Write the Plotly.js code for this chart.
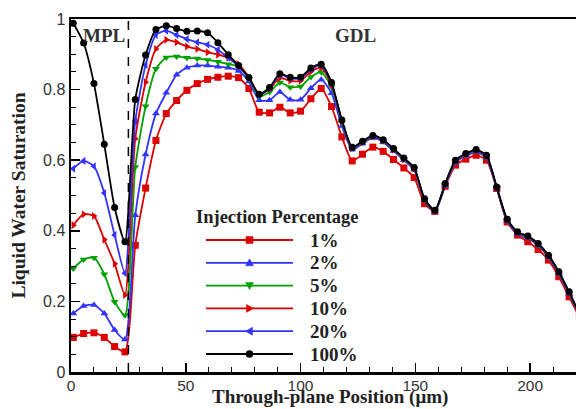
<!DOCTYPE html>
<html>
<head>
<meta charset="utf-8">
<script src="https://cdn.plot.ly/plotly-3.0.1.min.js"></script>
<style>html,body{margin:0;padding:0;background:#fff;}#chart{width:576px;height:409px;}</style>
</head>
<body>
<div id="chart"></div>
<script>
// Through-plane position (µm)
const position = [1, 5.5, 10, 14.5, 19, 23.5, 28, 32.5, 37, 41.5, 46, 50.5, 55, 59.5, 64, 68.5, 73, 77.5, 82, 86.5,
  91, 95.5, 100, 104.5, 109, 113.5, 118, 122.5, 127, 131.5, 136, 140.5, 145, 149.5, 154, 158.5, 163, 167.5, 172, 176.5,
  181, 185.5, 190, 194.5, 199, 203.5, 208, 212.5, 217, 221.5];

const sat1 = [0.098, 0.109, 0.111, 0.098, 0.072, 0.057, 0.359, 0.521, 0.656, 0.732, 0.769, 0.798, 0.817, 0.829, 0.835, 0.838, 0.834, 0.803, 0.736, 0.734,
  0.750, 0.734, 0.739, 0.774, 0.803, 0.752, 0.666, 0.598, 0.617, 0.637, 0.625, 0.602, 0.578, 0.551, 0.477, 0.455, 0.526, 0.586, 0.603, 0.614,
  0.600, 0.520, 0.425, 0.388, 0.369, 0.347, 0.317, 0.270, 0.213, 0.155];
const sat2 = [0.166, 0.187, 0.190, 0.166, 0.119, 0.092, 0.444, 0.616, 0.732, 0.791, 0.842, 0.862, 0.868, 0.868, 0.865, 0.862, 0.853, 0.823, 0.770, 0.770,
  0.793, 0.771, 0.771, 0.804, 0.828, 0.790, 0.697, 0.630, 0.647, 0.663, 0.651, 0.626, 0.600, 0.573, 0.486, 0.454, 0.528, 0.593, 0.612, 0.623,
  0.607, 0.519, 0.428, 0.391, 0.379, 0.358, 0.325, 0.278, 0.221, 0.160];
const sat5 = [0.293, 0.319, 0.324, 0.277, 0.199, 0.161, 0.581, 0.753, 0.859, 0.891, 0.894, 0.890, 0.888, 0.884, 0.879, 0.872, 0.866, 0.830, 0.781, 0.793,
  0.820, 0.807, 0.809, 0.836, 0.849, 0.808, 0.706, 0.633, 0.650, 0.666, 0.654, 0.629, 0.602, 0.575, 0.488, 0.455, 0.530, 0.596, 0.615, 0.626,
  0.610, 0.520, 0.429, 0.393, 0.381, 0.360, 0.327, 0.280, 0.223, 0.161];
const sat10 = [0.416, 0.447, 0.442, 0.375, 0.307, 0.218, 0.661, 0.821, 0.915, 0.941, 0.934, 0.922, 0.915, 0.906, 0.899, 0.890, 0.872, 0.835, 0.787, 0.802,
  0.833, 0.825, 0.825, 0.851, 0.862, 0.814, 0.711, 0.634, 0.651, 0.667, 0.655, 0.630, 0.603, 0.576, 0.489, 0.456, 0.531, 0.597, 0.616, 0.627,
  0.611, 0.521, 0.430, 0.394, 0.382, 0.361, 0.328, 0.281, 0.224, 0.162];
const sat20 = [0.576, 0.598, 0.583, 0.507, 0.388, 0.280, 0.710, 0.870, 0.955, 0.967, 0.955, 0.943, 0.934, 0.927, 0.913, 0.890, 0.866, 0.832, 0.785, 0.804,
  0.842, 0.832, 0.832, 0.858, 0.869, 0.817, 0.712, 0.635, 0.652, 0.668, 0.656, 0.631, 0.604, 0.577, 0.490, 0.457, 0.532, 0.598, 0.617, 0.628,
  0.612, 0.522, 0.431, 0.395, 0.383, 0.362, 0.329, 0.282, 0.225, 0.163];
const sat100 = [0.988, 0.932, 0.817, 0.645, 0.466, 0.369, 0.772, 0.898, 0.970, 0.981, 0.973, 0.965, 0.966, 0.961, 0.933, 0.899, 0.868, 0.834, 0.787, 0.806,
  0.845, 0.835, 0.835, 0.861, 0.872, 0.820, 0.714, 0.637, 0.654, 0.670, 0.658, 0.633, 0.606, 0.579, 0.491, 0.458, 0.534, 0.600, 0.619, 0.630,
  0.614, 0.524, 0.433, 0.397, 0.385, 0.364, 0.331, 0.284, 0.227, 0.165];

const seriesNames = ['1%', '2%', '5%', '10%', '20%', '100%'];
const seriesValues = [sat1, sat2, sat5, sat10, sat20, sat100];
const seriesColors = ['#dd0000', '#3333ff', '#00a000', '#dd0000', '#3333ff', '#000000'];
const seriesSymbols = ['square', 'triangle-up', 'triangle-down', 'triangle-right', 'triangle-left', 'circle'];
const legendTitle = 'Injection Percentage';
const xTitle = 'Through-plane Position (μm)';
const yTitle = 'Liquid Water Saturation';

const mplBoundary = 25;   // MPL/GDL interface (µm)
const xTicks = [0, 50, 100, 150, 200];
const yTicks = [0, 0.2, 0.4, 0.6, 0.8, 1];

const serif = 'Liberation Serif, Times New Roman, serif';
const sans = 'Liberation Sans, Arial, sans-serif';

// plot-area geometry (px)
const M = {l: 71, r: 0, t: 19, b: 37};
const W = 576, H = 409;
const PW = W - M.l - M.r, PH = H - M.t - M.b;
const px2x = px => (px - M.l) / PW;
const py2y = py => (H - M.b - py) / PH;

const traces = seriesValues.map((vals, i) => ({
  type: 'scatter',
  mode: 'lines+markers',
  name: seriesNames[i],
  showlegend: false,
  x: position,
  y: vals,
  line: {color: seriesColors[i], width: 1.8, shape: 'spline', smoothing: 0.6},
  marker: {color: seriesColors[i], symbol: seriesSymbols[i], size: 7}
}));

// custom legend (long line samples like the original)
const legRow0 = 240, legDy = 22.8;
const legLineX0 = 206, legLineX1 = 293, legMarkX = 249.5, legTextX = 308;
const markerPaths = {
  'triangle-up': 'M-4,-3 L4,-3 L0,4 Z',
  'triangle-down': 'M-4,3 L4,3 L0,-4 Z',
  'triangle-right': 'M-3,-4 L-3,4 L4,0 Z',
  'triangle-left': 'M3,-4 L3,4 L-4,0 Z'
};
const legendShapes = [];
const legendAnn = [{
  text: legendTitle, xref: 'paper', yref: 'paper', x: px2x(194), y: py2y(217),
  xanchor: 'left', yanchor: 'middle', showarrow: false,
  font: {family: serif, size: 18.5, color: '#222', weight: 'bold'}
}];
seriesNames.forEach((nm, i) => {
  const yy = py2y(legRow0 + i * legDy);
  const c = seriesColors[i];
  legendShapes.push({type: 'line', xref: 'paper', yref: 'paper', x0: px2x(legLineX0), x1: px2x(legLineX1),
    y0: yy, y1: yy, line: {color: c, width: 1.8}});
  const base = {xref: 'paper', yref: 'paper', xsizemode: 'pixel', ysizemode: 'pixel',
    xanchor: px2x(legMarkX), yanchor: yy, fillcolor: c, line: {color: c, width: 0.5}};
  const sym = seriesSymbols[i];
  if (sym === 'square') legendShapes.push(Object.assign({type: 'rect', x0: -3.5, x1: 3.5, y0: -3.5, y1: 3.5}, base));
  else if (sym === 'circle') legendShapes.push(Object.assign({type: 'circle', x0: -3.6, x1: 3.6, y0: -3.6, y1: 3.6}, base));
  else legendShapes.push(Object.assign({type: 'path', path: markerPaths[sym]}, base));
  legendAnn.push({text: nm, xref: 'paper', yref: 'paper', x: px2x(legTextX), y: yy,
    xanchor: 'left', yanchor: 'middle', showarrow: false,
    font: {family: serif, size: 19, color: '#222', weight: 'bold'}});
});

const layout = {
  width: W, height: H,
  margin: {l: M.l, r: M.r, t: M.t, b: M.b, pad: 0},
  paper_bgcolor: '#fff', plot_bgcolor: '#fff',
  font: {family: sans, size: 15.5, color: '#222'},
  showlegend: false,
  xaxis: {
    range: [0, 220], tickvals: xTicks, ticks: 'inside', ticklen: 9, tickwidth: 1.5, tickcolor: '#000',
    showline: true, linewidth: 2.5, linecolor: '#000', mirror: true, showgrid: false, zeroline: false,
    minor: {dtick: 10, ticks: 'inside', ticklen: 5, tickwidth: 1, tickcolor: '#000', showgrid: false},
    ticklabelstandoff: -2,
    tickfont: {family: sans, size: 15.5, color: '#333'}
  },
  yaxis: {
    range: [0, 1], tickvals: yTicks, ticks: 'inside', ticklen: 9, tickwidth: 1.5, tickcolor: '#000',
    showline: true, linewidth: 2.5, linecolor: '#000', mirror: false, showgrid: false, zeroline: false,
    minor: {dtick: 0.05, ticks: 'inside', ticklen: 5, tickwidth: 1, tickcolor: '#000', showgrid: false},
    tickfont: {family: sans, size: 16, color: '#333'},
    title: {text: yTitle, standoff: 12, font: {family: serif, size: 19.5, color: '#222', weight: 'bold'}}
  },
  shapes: [{
    type: 'line', xref: 'x', yref: 'y', x0: mplBoundary, x1: mplBoundary, y0: 0, y1: 1,
    line: {color: '#000', width: 1.5, dash: 'dash'}
  }].concat(legendShapes),
  annotations: [
    {text: 'MPL', xref: 'x', yref: 'paper', x: 14.4, y: py2y(35), showarrow: false, yanchor: 'middle',
     font: {family: serif, size: 19, color: '#333', weight: 'bold'}},
    {text: 'GDL', xref: 'x', yref: 'paper', x: 124, y: py2y(35), showarrow: false, yanchor: 'middle',
     font: {family: serif, size: 19, color: '#333', weight: 'bold'}},
    {text: xTitle, xref: 'paper', yref: 'paper', x: px2x(330), y: py2y(410), xanchor: 'center', yanchor: 'bottom',
     showarrow: false, font: {family: serif, size: 19, color: '#222', weight: 'bold'}}
  ].concat(legendAnn)
};

Plotly.newPlot('chart', traces, layout, {displayModeBar: false, staticPlot: true});
</script>
</body>
</html>
